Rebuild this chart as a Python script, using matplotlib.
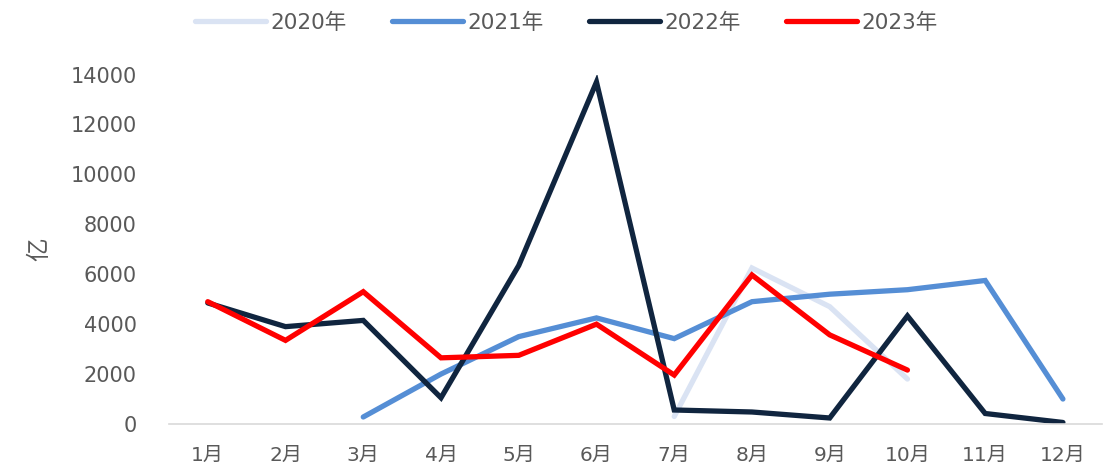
import numpy as np
import matplotlib
matplotlib.use("Agg")
import matplotlib.pyplot as plt

plt.rcParams['font.family'] = ['DejaVu Sans', 'Noto Sans CJK SC']

months = ['1月', '2月', '3月', '4月', '5月', '6月', '7月', '8月', '9月', '10月', '11月', '12月']
nan = np.nan
s2020 = [nan, nan, nan, nan, nan, nan, 300, 6250, 4700, 1800, nan, nan]
s2021 = [nan, nan, 280, 2000, 3500, 4250, 3420, 4900, 5200, 5380, 5750, 1000]
s2022 = [4850, 3900, 4150, 1050, 6350, 13700, 560, 480, 240, 4330, 420, 60]
s2023 = [4900, 3350, 5300, 2650, 2750, 4000, 1960, 5970, 3570, 2160, nan, nan]
series_names = ['2020年', '2021年', '2022年', '2023年']
colors = ['#DAE3F3', '#558ED5', '#10253F', '#FF0000']

fig = plt.figure(figsize=(11.04, 4.69), dpi=100)
ax = fig.add_axes([0.153, 0.096, 0.845, 0.745])
x = np.arange(1, 13)
for data, name, c in zip([s2020, s2021, s2022, s2023], series_names, colors):
    ax.plot(x, data, color=c, lw=3.8, label=name, solid_joinstyle='miter', solid_capstyle='round')

ax.set_xlim(0.5, 12.5)
ax.set_ylim(0, 14000)
ax.set_yticks(np.arange(0, 14001, 2000))
ax.set_xticks(x)
ax.set_xticklabels(months)
for s in ['top', 'right', 'left']:
    ax.spines[s].set_visible(False)
ax.spines['bottom'].set_color('#D9D9D9')
ax.spines['bottom'].set_linewidth(1.2)
ax.tick_params(axis='both', length=0, colors='#595959')
ax.tick_params(axis='y', pad=23, labelsize=15)
ax.tick_params(axis='x', pad=16, labelsize=14.5)
ax.set_ylabel('亿', fontsize=17, color='#595959', labelpad=14)

leg = fig.legend(loc='upper center', bbox_to_anchor=(0.513, 1.015), ncol=4, frameon=False,
                 fontsize=15.5, handlelength=3.3, columnspacing=2.1, handletextpad=0.2,
                 labelcolor='#595959')
fig.savefig('out.png', dpi=100)
